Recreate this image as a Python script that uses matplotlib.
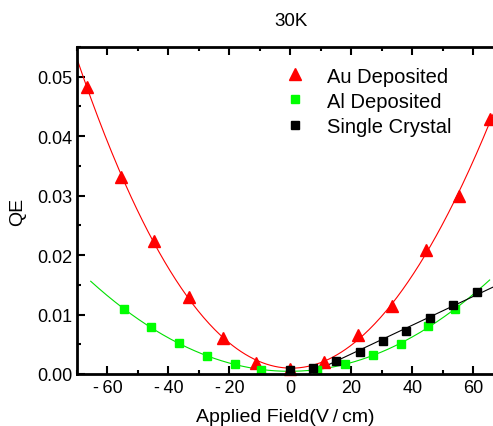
import numpy as np
import matplotlib.pyplot as plt
from matplotlib.ticker import MultipleLocator

plt.rcParams['font.family'] = ['Liberation Sans', 'DejaVu Sans']

# Au deposited (red triangles)
au_x = [-66.7, -55.5, -44.7, -33.2, -22.0, -11.2, 0.0, 11.2, 22.1, 33.4, 44.6, 55.5, 65.6]
au_y = [0.0482, 0.0332, 0.0223, 0.0129, 0.0061, 0.0018, 0.0008, 0.0021, 0.0066, 0.0114, 0.0208, 0.0300, 0.0429]

# Al deposited (green squares)
al_x = [-54.7, -45.7, -36.5, -27.4, -18.3, -9.5, 8.7, 17.8, 27.0, 36.2, 45.1, 54.1]
al_y = [0.0109, 0.0079, 0.0052, 0.0030, 0.0017, 0.0007, 0.0006, 0.0017, 0.0032, 0.0050, 0.0080, 0.0109]

# Single crystal (black squares)
sc_x = [0.0, 7.5, 15.1, 22.7, 30.4, 38.0, 45.7, 53.4, 61.1]
sc_y = [0.0006, 0.0010, 0.0022, 0.0037, 0.0055, 0.0073, 0.0094, 0.0116, 0.0138]

fig = plt.figure(figsize=(4.93, 4.27), dpi=100)
ax = fig.add_axes([77 / 493, 52 / 427, 1 - 77 / 493, 327 / 427])

# fitted curves
xa = np.linspace(-70, 66.5, 300)
ax.plot(xa, np.polyval(np.polyfit(au_x, au_y, 4), xa), color='red', lw=0.8)
xg = np.linspace(-65.5, 65.4, 300)
ax.plot(xg, np.polyval(np.polyfit(al_x, al_y, 2), xg), color='#00e000', lw=0.8)
p = np.polyfit(sc_x[1:], sc_y[1:], 1)
xb = np.linspace(-p[1] / p[0], 66.5, 50)
ax.plot(xb, np.polyval(p, xb), color='black', lw=0.8)

ax.plot(au_x, au_y, '^', color='red', ms=8.5, mec='red', label='Au Deposited', clip_on=False)
ax.plot(al_x, al_y, 's', color='#00ff00', ms=5.2, mec='#00ff00', label='Al Deposited')
ax.plot(sc_x, sc_y, 's', color='black', ms=5.2, label='Single Crystal')

ax.set_xlim(-70, 66.5)
ax.set_ylim(0, 0.055)
ax.xaxis.set_major_locator(MultipleLocator(20))
ax.xaxis.set_minor_locator(MultipleLocator(10))
ax.yaxis.set_major_locator(MultipleLocator(0.01))
ax.yaxis.set_minor_locator(MultipleLocator(0.005))
ax.yaxis.set_major_formatter(plt.FuncFormatter(lambda v, _: f'{v:.2f}'))
ax.xaxis.set_major_formatter(plt.FuncFormatter(lambda v, _: f'{v:.0f}'.replace('-', '-\u2009')))
ax.tick_params(which='both', direction='in', top=True, right=False, width=1.5, labelsize=13)
ax.tick_params(which='major', length=6)
ax.tick_params(which='minor', length=3)
for s in ['left', 'bottom', 'top']:
    ax.spines[s].set_linewidth(2)
ax.spines['right'].set_visible(False)

ax.set_xlabel('Applied Field(V\u2009/\u2009cm)', fontsize=14, labelpad=9)
ax.set_ylabel('QE', fontsize=14, labelpad=8)
fig.text(291 / 493, 1 - 22 / 427, '30K', fontsize=13.5, ha='center', va='center')

ax.legend(loc='upper left', bbox_to_anchor=(0.48, 0.965), frameon=False, fontsize=14.5,
          handlelength=1.0, handletextpad=1.1, labelspacing=0.3, borderaxespad=0)

fig.savefig('out.png', dpi=100)
